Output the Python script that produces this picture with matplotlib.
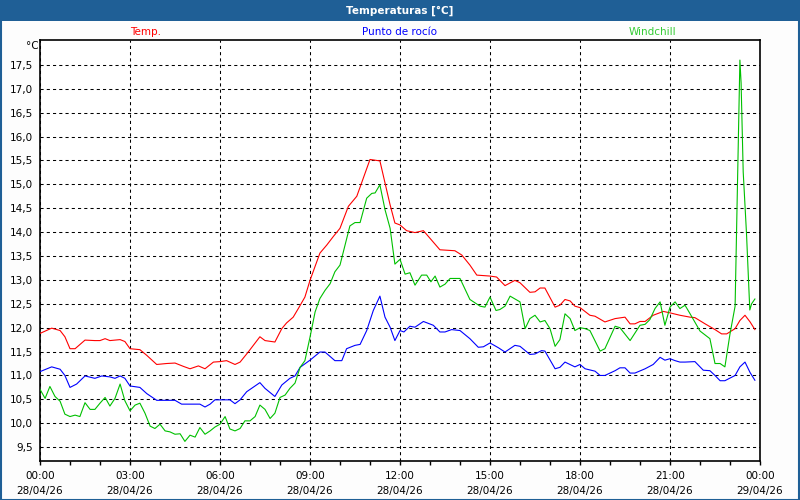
import matplotlib
matplotlib.use("Agg")
import matplotlib.pyplot as plt
from matplotlib.patches import Rectangle
import numpy as np

# Temp. (hours since 00:00, degC)
tempHours = [0.0, 0.39, 0.67, 0.83, 1.0, 1.17, 1.5, 1.83, 2.0, 2.17, 2.33, 2.67, 2.83, 3.0, 3.33, 3.56,
             3.89, 4.22, 4.5, 4.78, 5.0, 5.28, 5.5, 5.78, 6.0, 6.22, 6.5, 6.67, 6.94, 7.33, 7.5, 7.83,
             8.06, 8.22, 8.44, 8.61, 8.83, 9.0, 9.33, 9.56, 9.78, 10.0, 10.28, 10.56, 10.72, 11.0, 11.33,
             11.5, 11.67, 11.83, 12.0, 12.22, 12.5, 12.78, 13.0, 13.33, 13.83, 14.06, 14.33, 14.56, 15.0,
             15.22, 15.5, 15.83, 16.0, 16.33, 16.5, 16.67, 16.83, 17.17, 17.33, 17.5, 17.67, 17.83, 18.0,
             18.33, 18.5, 18.83, 19.17, 19.5, 19.67, 19.83, 20.0, 20.17, 20.44, 20.78, 21.0, 21.33, 21.67,
             21.83, 22.17, 22.5, 22.72, 22.89, 23.17, 23.33, 23.5, 23.67, 23.83]
tempValues = [11.88, 11.99, 11.94, 11.81, 11.56, 11.56, 11.74, 11.73, 11.73, 11.77, 11.73, 11.75, 11.71,
              11.56, 11.54, 11.42, 11.23, 11.25, 11.26, 11.19, 11.14, 11.2, 11.14, 11.28, 11.29, 11.31,
              11.23, 11.28, 11.49, 11.81, 11.73, 11.70, 11.98, 12.10, 12.22, 12.40, 12.64, 12.99, 13.56,
              13.73, 13.91, 14.08, 14.54, 14.75, 15.03, 15.52, 15.49, 15.03, 14.57, 14.19, 14.15, 14.03,
              13.99, 14.03, 13.87, 13.63, 13.61, 13.52, 13.31, 13.10, 13.08, 13.06, 12.88, 12.99, 12.94,
              12.74, 12.75, 12.83, 12.83, 12.43, 12.47, 12.59, 12.56, 12.45, 12.42, 12.26, 12.24, 12.12,
              12.19, 12.22, 12.08, 12.08, 12.13, 12.13, 12.26, 12.34, 12.31, 12.26, 12.22, 12.21, 12.08,
              11.96, 11.87, 11.87, 11.98, 12.15, 12.26, 12.12, 11.96]

# Punto de rocio
dewHours = [0.0, 0.39, 0.67, 0.83, 1.0, 1.22, 1.5, 1.83, 2.06, 2.33, 2.5, 2.67, 2.83, 3.0, 3.33, 3.56,
            3.89, 4.22, 4.5, 4.72, 5.06, 5.33, 5.5, 5.67, 5.83, 6.06, 6.33, 6.5, 6.67, 6.89, 7.33, 7.5,
            7.83, 8.06, 8.33, 8.5, 8.67, 9.0, 9.33, 9.5, 9.83, 10.06, 10.22, 10.5, 10.67, 10.89, 11.11,
            11.33, 11.5, 11.67, 11.83, 12.0, 12.13, 12.33, 12.5, 12.78, 13.11, 13.33, 13.5, 13.72, 14.0,
            14.33, 14.61, 14.78, 15.0, 15.28, 15.5, 15.83, 16.0, 16.33, 16.5, 16.72, 16.83, 17.17, 17.33,
            17.5, 17.83, 18.0, 18.17, 18.5, 18.67, 18.83, 19.17, 19.33, 19.5, 19.67, 19.83, 20.17, 20.44,
            20.67, 20.83, 21.0, 21.17, 21.33, 21.5, 21.83, 22.11, 22.33, 22.5, 22.67, 22.83, 23.17, 23.33,
            23.5, 23.67, 23.83]
dewValues = [11.08, 11.18, 11.13, 11.0, 10.75, 10.82, 10.99, 10.94, 10.99, 10.97, 10.94, 10.99, 10.94,
             10.78, 10.75, 10.62, 10.48, 10.48, 10.48, 10.40, 10.40, 10.40, 10.34, 10.40, 10.49, 10.49,
             10.49, 10.41, 10.49, 10.66, 10.85, 10.73, 10.56, 10.80, 10.94, 10.99, 11.17, 11.32, 11.49,
             11.49, 11.31, 11.31, 11.56, 11.63, 11.65, 11.94, 12.36, 12.66, 12.22, 12.01, 11.73, 11.94,
             11.91, 12.03, 12.01, 12.13, 12.05, 11.91, 11.91, 11.96, 11.94, 11.77, 11.59, 11.60, 11.68,
             11.58, 11.49, 11.63, 11.61, 11.44, 11.45, 11.52, 11.51, 11.14, 11.17, 11.28, 11.18, 11.23,
             11.14, 11.09, 11.0, 11.0, 11.10, 11.16, 11.16, 11.05, 11.05, 11.14, 11.23, 11.38, 11.32,
             11.35, 11.31, 11.28, 11.28, 11.29, 11.11, 11.10, 11.0, 10.89, 10.89, 11.0, 11.18, 11.28,
             11.06, 10.90]

# Windchill
chillHours = [0.0, 0.17, 0.33, 0.5, 0.67, 0.83, 1.0, 1.17, 1.33, 1.5, 1.67, 1.83, 2.0, 2.17, 2.33, 2.5,
              2.67, 2.83, 3.0, 3.17, 3.33, 3.5, 3.67, 3.83, 4.0, 4.17, 4.33, 4.5, 4.67, 4.83, 5.0, 5.17,
              5.33, 5.5, 5.67, 5.83, 6.0, 6.17, 6.33, 6.5, 6.67, 6.83, 7.0, 7.17, 7.33, 7.5, 7.67, 7.83,
              8.0, 8.17, 8.33, 8.5, 8.67, 8.83, 9.0, 9.17, 9.33, 9.5, 9.67, 9.83, 10.0, 10.33, 10.5, 10.67,
              10.89, 11.06, 11.17, 11.33, 11.5, 11.67, 11.83, 12.0, 12.17, 12.33, 12.5, 12.72, 12.89,
              13.03, 13.17, 13.33, 13.5, 13.67, 14.0, 14.33, 14.67, 14.83, 15.0, 15.2, 15.33, 15.5, 15.67,
              16.0, 16.17, 16.33, 16.5, 16.67, 16.83, 17.0, 17.17, 17.33, 17.5, 17.67, 17.83, 18.0, 18.17,
              18.33, 18.67, 18.83, 19.17, 19.33, 19.67, 20.0, 20.17, 20.33, 20.5, 20.67, 20.83, 21.0,
              21.17, 21.33, 21.5, 21.67, 22.0, 22.33, 22.5, 22.67, 22.83, 23.0, 23.17, 23.33, 23.37,
              23.44, 23.55, 23.66, 23.72, 23.83]
chillValues = [10.71, 10.52, 10.77, 10.56, 10.46, 10.19, 10.14, 10.17, 10.14, 10.43, 10.29, 10.29, 10.42,
               10.54, 10.36, 10.52, 10.82, 10.47, 10.26, 10.38, 10.42, 10.21, 9.94, 9.89, 9.98, 9.84,
               9.82, 9.77, 9.78, 9.62, 9.75, 9.71, 9.91, 9.77, 9.84, 9.92, 9.98, 10.14, 9.88, 9.84, 9.89,
               10.05, 10.05, 10.14, 10.38, 10.29, 10.10, 10.21, 10.54, 10.59, 10.73, 10.84, 11.17, 11.31,
               11.80, 12.33, 12.61, 12.78, 12.92, 13.17, 13.31, 14.13, 14.20, 14.20, 14.71, 14.81, 14.82,
               14.99, 14.47, 14.08, 13.33, 13.43, 13.12, 13.15, 12.89, 13.10, 13.10, 12.96, 13.08, 12.85,
               12.91, 13.03, 13.03, 12.59, 12.45, 12.43, 12.64, 12.36, 12.38, 12.45, 12.66, 12.54, 11.98,
               12.19, 12.26, 12.12, 12.15, 11.98, 11.61, 11.75, 12.29, 12.19, 11.94, 12.0, 11.98, 11.94,
               11.51, 11.56, 12.03, 12.0, 11.73, 12.05, 12.07, 12.17, 12.40, 12.54, 12.05, 12.43, 12.54,
               12.40, 12.47, 12.29, 11.93, 11.77, 11.25, 11.25, 11.18, 11.87, 12.45, 17.6, 17.12, 15.26,
               13.97, 12.37, 12.5, 12.6]

xTickLabels = ["00:00\n28/04/26", "03:00\n28/04/26", "06:00\n28/04/26", "09:00\n28/04/26",
               "12:00\n28/04/26", "15:00\n28/04/26", "18:00\n28/04/26", "21:00\n28/04/26",
               "00:00\n29/04/26"]

frameBlue = "#1f5f96"
plt.rcParams["font.family"] = ["DejaVu Sans"]

fig = plt.figure(figsize=(8, 5), dpi=100, facecolor="#fdfdfd")
ax = fig.add_axes([40 / 800, 39 / 500, 720 / 800, 421 / 500])

# Title bar and outer border
fig.patches.append(Rectangle((0, 1 - 21 / 500), 1, 21 / 500, transform=fig.transFigure,
                             facecolor=frameBlue, edgecolor="none", zorder=0))
fig.patches.append(Rectangle((0.5 / 800, 0.5 / 500), 798.5 / 800, 498.5 / 500, transform=fig.transFigure,
                             facecolor="none", edgecolor=frameBlue, linewidth=1.5, zorder=0))
fig.text(0.5, 1 - 10.5 / 500, "Temperaturas [°C]", color="white", fontsize=7.5, fontweight="bold",
         ha="center", va="center")

# Legend labels above the plot
fig.text(146 / 800, 1 - 32 / 500, "Temp.", color="#ff0000", fontsize=7.5, ha="center", va="center")
fig.text(400 / 800, 1 - 32 / 500, "Punto de rocío", color="#0000ff", fontsize=7.5, ha="center", va="center")
fig.text(652 / 800, 1 - 32 / 500, "Windchill", color="#33cc33", fontsize=7.5, ha="center", va="center")
fig.text(32 / 800, 1 - 46 / 500, "°C", color="black", fontsize=7.5, ha="center", va="center")

ax.plot(tempHours, tempValues, color="#ff0000", linewidth=0.8, zorder=3)
ax.plot(dewHours, dewValues, color="#0000ff", linewidth=0.8, zorder=3)
ax.plot(chillHours, chillValues, color="#00c000", linewidth=0.8, zorder=3)

ax.set_xlim(0, 24)
ax.set_ylim(9.21, 18.02)
ax.set_facecolor("white")

ax.set_xticks(np.arange(0, 25, 3))
ax.set_xticklabels(xTickLabels, fontsize=7.5, linespacing=1.6)
ax.set_xticks(np.arange(0, 25, 1), minor=True)
ax.tick_params(axis="x", which="both", direction="out", length=3, width=1, pad=4)

yTicks = np.arange(9.5, 17.51, 0.5)
ax.set_yticks(yTicks)
ax.set_yticklabels([f"{v:.1f}".replace(".", ",") for v in yTicks], fontsize=7.5)
ax.tick_params(axis="y", length=0, pad=5)

ax.grid(True, which="major", color="black", linestyle=(0, (3, 3)), linewidth=0.75, zorder=1)
for s in ax.spines.values():
    s.set_linewidth(1.2)
    s.set_color("black")

fig.savefig("out.png", dpi=100, facecolor=fig.get_facecolor())
